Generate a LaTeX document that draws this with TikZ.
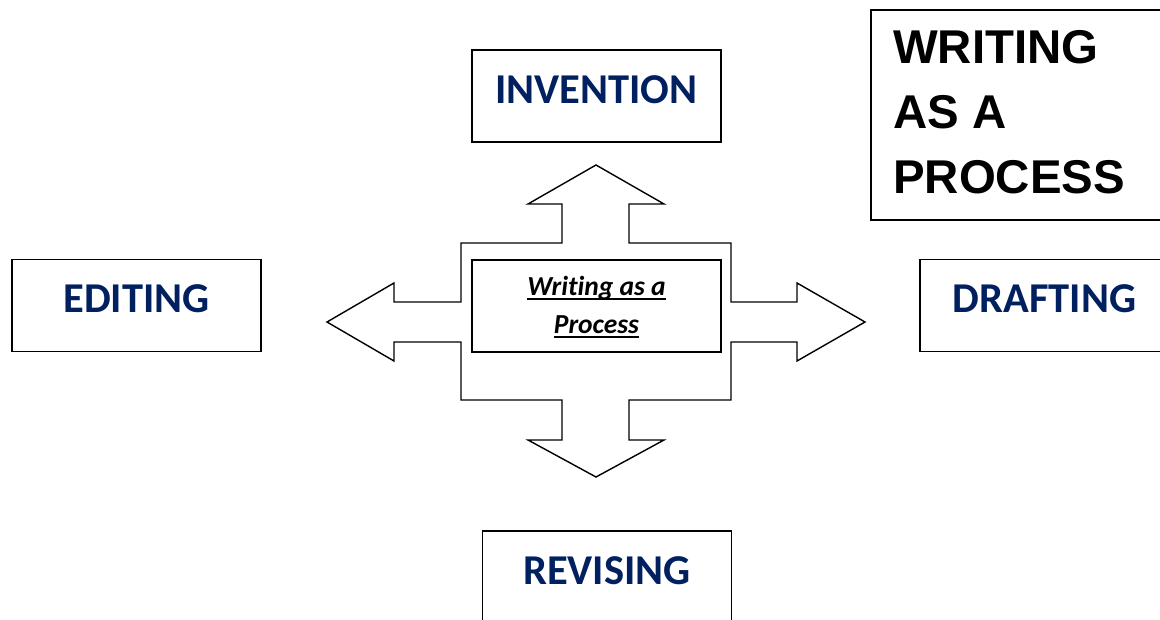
\documentclass[tikz,border=0pt]{standalone}
\usepackage{fontspec}
\setmainfont[Ligatures=NoCommon]{Carlito}
\newfontfamily\arialfont{Liberation Sans}
\definecolor{navy}{RGB}{0,32,96}
\newcommand\thickul[1]{\setbox0\hbox{#1}\rlap{\rule[-5pt]{\wd0}{2.4pt}}\box0}
\begin{document}
\begin{tikzpicture}[x=1pt,y=-1pt,
  box/.style={draw=black,line width=1.8pt,rectangle,inner sep=0pt,minimum width=249pt,minimum height=92pt},
  lbl/.style={text=navy,font=\fontsize{42.5}{50}\selectfont\bfseries,inner sep=0pt},
  crossline/.style={draw=black,line width=1.4pt,line join=miter}]
\useasboundingbox (0,0) rectangle (1160,620);
\fill[white] (0,0) rectangle (1160,620);
% boxes
\node[box] (inv) at (596.5,96) {};
\node[lbl] (invt) at (596.5,90) {INVENTION};
\node[box] (edi) at (136.5,305.5) {};
\node[lbl] (edit) at (136.5,299) {EDITING};
\node[box] (dra) at (1044.5,305.5) {};
\node[lbl] (drat) at (1044.5,299) {DRAFTING};
\node[box] (rev) at (607,577) {};
\node[lbl] (revt) at (607,571) {REVISING};
% title box
\node[draw=black,line width=1.8pt,rectangle,inner sep=0pt,minimum width=310pt,minimum height=210pt] (ttl) at (1026,115) {};
\node[anchor=west,inner sep=0pt,align=left,font=\arialfont\bfseries\fontsize{47.4}{65}\selectfont] (ttlt) at (893,112) {WRITING\\AS A\\PROCESS};
% cross arrow
\draw[crossline] (596,165) -- (664,204) -- (629,204) -- (629,243) -- (731,243) -- (731,302) -- (797,302) -- (797,283) -- (865,322) -- (797,361) -- (797,342) -- (731,342) -- (731,400) -- (629,400) -- (629,440) -- (664,440) -- (596,477) -- (528,440) -- (562,440) -- (562,400) -- (461,400) -- (461,342) -- (394,342) -- (394,361) -- (327,322) -- (394,283) -- (394,302) -- (461,302) -- (461,243) -- (562,243) -- (562,204) -- (528,204) -- cycle;
% center box
\node[draw=black,line width=1.8pt,rectangle,inner sep=0pt,minimum width=249pt,minimum height=92pt,fill=white] (ctr) at (596.5,306) {};
\node[inner sep=0pt,align=center,font=\fontsize{27.5}{38}\selectfont\bfseries\itshape] (ctrt) at (596.5,307) {\thickul{Writing as a}\\\thickul{Process}};
\end{tikzpicture}
\end{document}
